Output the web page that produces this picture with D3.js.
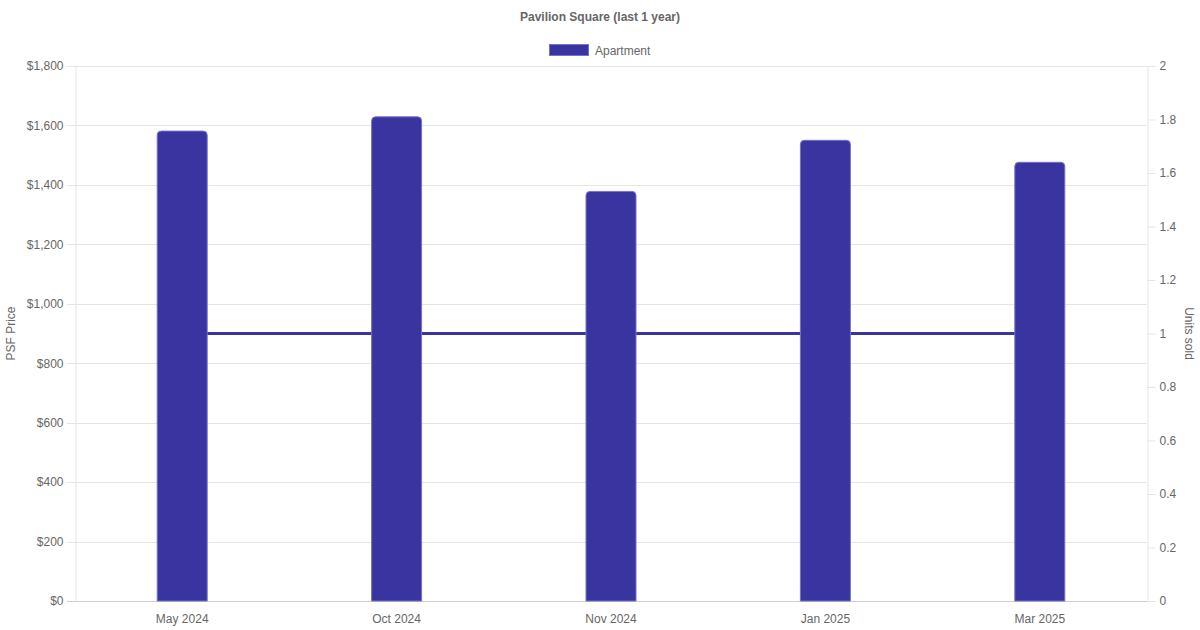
<!DOCTYPE html>
<html>
<head>
<meta charset="utf-8">
<script src="https://cdn.jsdelivr.net/npm/d3@7"></script>
<style>
  body { margin: 0; background: #fff; }
  svg { font-family: "Liberation Sans", Arial, sans-serif; }
</style>
</head>
<body>
<div id="chart"></div>
<script>
const months = ["May 2024", "Oct 2024", "Nov 2024", "Jan 2025", "Mar 2025"];
const psfPrice = [1581, 1629, 1378, 1550, 1476];
const unitsSold = [1, 1, 1, 1, 1];
const psfTicks = [0, 200, 400, 600, 800, 1000, 1200, 1400, 1600, 1800];
const unitTicks = [0, 0.2, 0.4, 0.6, 0.8, 1, 1.2, 1.4, 1.6, 1.8, 2];

const width = 1200;
const height = 630;
const margin = { top: 66, right: 53, bottom: 29, left: 75 };
const barColor = "#3934a0";
const barBorder = "#7373c8";
const gridColor = "#e5e5e5";
const textColor = "#666";

const svg = d3
  .select("#chart")
  .append("svg")
  .attr("width", width)
  .attr("height", height);

const x = d3
  .scaleBand()
  .domain(months)
  .range([margin.left, width - margin.right]);
const yLeft = d3
  .scaleLinear()
  .domain([0, 1800])
  .range([height - margin.bottom, margin.top]);
const yRight = d3
  .scaleLinear()
  .domain([0, 2])
  .range([height - margin.bottom, margin.top]);

// grid lines
svg
  .append("g")
  .selectAll("line")
  .data(psfTicks)
  .join("line")
  .attr("x1", margin.left - 8)
  .attr("x2", width - margin.right)
  .attr("y1", (d) => Math.round(yLeft(d)) + 0.5)
  .attr("y2", (d) => Math.round(yLeft(d)) + 0.5)
  .attr("stroke", (d) => (d === 0 ? "#ccc" : gridColor));

// left axis
const leftAxis = d3
  .axisLeft(yLeft)
  .tickValues(psfTicks)
  .tickSize(0)
  .tickPadding(12)
  .tickFormat((d) => "$" + d3.format(",")(d));
const gl = svg
  .append("g")
  .attr("transform", `translate(${margin.left + 0.5},0)`)
  .call(leftAxis);
gl.select(".domain").attr("stroke", gridColor);

// right axis
const rightAxis = d3
  .axisRight(yRight)
  .tickValues(unitTicks)
  .tickSize(8)
  .tickPadding(4)
  .tickFormat((d) => d3.format("~g")(d));
const gr = svg
  .append("g")
  .attr("transform", `translate(${width - margin.right + 0.5},0)`)
  .call(rightAxis);
gr.select(".domain").attr("stroke", gridColor);
gr.selectAll(".tick line").attr("stroke", gridColor);

// bottom axis
const bottomAxis = d3.axisBottom(x).tickSize(0).tickPadding(13);
const gb = svg
  .append("g")
  .attr("transform", `translate(0,${height - margin.bottom})`)
  .call(bottomAxis);
gb.select(".domain").remove();

svg
  .selectAll(".tick text")
  .attr("fill", textColor)
  .attr("font-size", 12)
  .attr("font-family", "Liberation Sans, Arial, sans-serif");

// units sold line (drawn under the bars)
const line = d3
  .line()
  .x((d, i) => x(months[i]) + x.bandwidth() / 2)
  .y((d) => yRight(d));
svg
  .append("path")
  .datum(unitsSold)
  .attr("fill", "none")
  .attr("stroke", barColor)
  .attr("stroke-width", 3)
  .attr("d", line);

// bars with rounded top corners
const barW = 50;
const r = 4;
svg
  .append("g")
  .selectAll("path")
  .data(psfPrice)
  .join("path")
  .attr("fill", barColor)
  .attr("stroke", barBorder)
  .attr("stroke-width", 1)
  .attr("d", (d, i) => {
    const x0 = x(months[i]) + x.bandwidth() / 2 - barW / 2;
    const x1 = x0 + barW;
    const y0 = yLeft(d);
    const yb = yLeft(0);
    return `M${x0},${yb}V${y0 + r}Q${x0},${y0} ${x0 + r},${y0}H${x1 - r}Q${x1},${y0} ${x1},${y0 + r}V${yb}Z`;
  });

// title
svg
  .append("text")
  .attr("x", width / 2)
  .attr("y", 21)
  .attr("text-anchor", "middle")
  .attr("font-size", 12)
  .attr("font-weight", "bold")
  .attr("fill", textColor)
  .text("Pavilion Square (last 1 year)");

// legend
svg
  .append("rect")
  .attr("x", 549.5)
  .attr("y", 44.5)
  .attr("width", 39)
  .attr("height", 11)
  .attr("fill", barColor)
  .attr("stroke", barBorder);
svg
  .append("text")
  .attr("x", 595)
  .attr("y", 55)
  .attr("font-size", 12)
  .attr("fill", textColor)
  .text("Apartment");

// axis titles
svg
  .append("text")
  .attr("transform", `translate(15,${(margin.top + height - margin.bottom) / 2}) rotate(-90)`)
  .attr("text-anchor", "middle")
  .attr("font-size", 12)
  .attr("fill", textColor)
  .text("PSF Price");
svg
  .append("text")
  .attr("transform", `translate(1185,${(margin.top + height - margin.bottom) / 2}) rotate(90)`)
  .attr("text-anchor", "middle")
  .attr("font-size", 12)
  .attr("fill", textColor)
  .text("Units sold");
</script>
</body>
</html>
